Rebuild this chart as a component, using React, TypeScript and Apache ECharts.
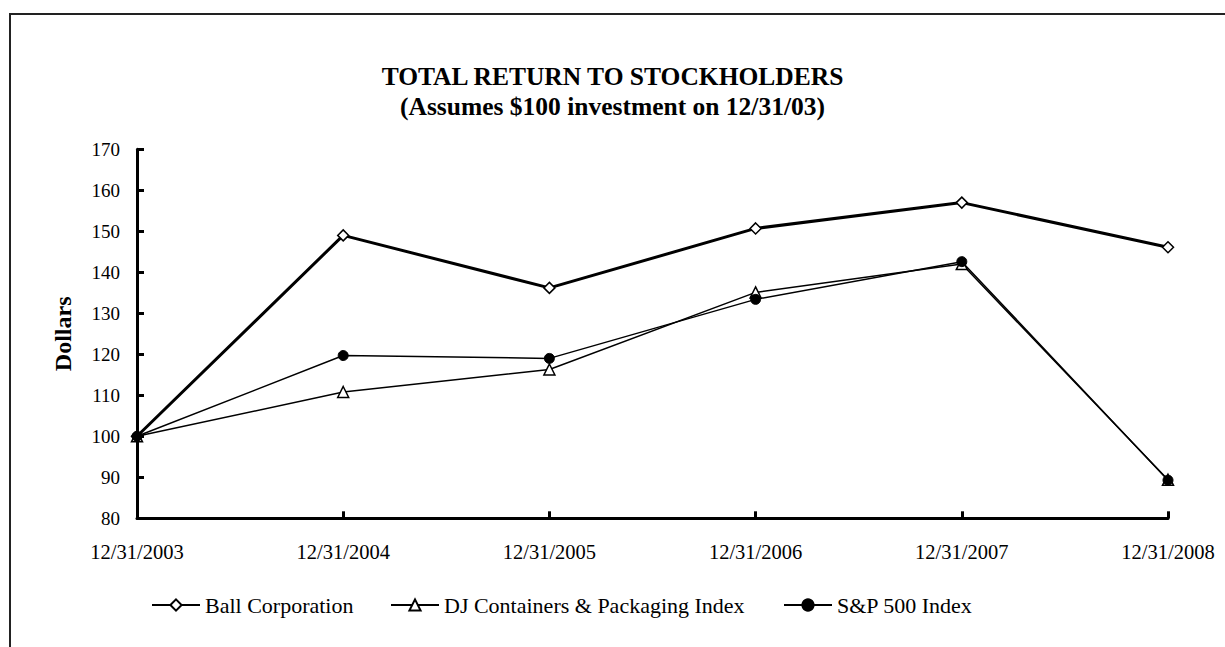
import React, { useEffect, useRef } from "react";
import * as echarts from "echarts";

const categories = ["12/31/2003", "12/31/2004", "12/31/2005", "12/31/2006", "12/31/2007", "12/31/2008"];
const ballValues = [100, 149.0, 136.2, 150.7, 157.0, 146.1];
const djValues = [100, 110.8, 116.3, 135.1, 142.0, 89.4];
const spValues = [100, 119.7, 119.0, 133.4, 142.6, 89.3];
const yTicks = { min: 80, max: 170, interval: 10 };

const FONT = "'Liberation Serif', 'Times New Roman', serif";

export default function App() {
  const ref = useRef<HTMLDivElement>(null);
  useEffect(() => {
    if (!ref.current) return;
    const chart = echarts.init(ref.current, undefined, { renderer: "svg" });
    const legendText = { fontFamily: FONT, fontSize: 22, color: "#000" };
    const legendCommon = {
      top: 594,
      itemWidth: 48,
      itemHeight: 14,
      itemGap: 0,
      padding: 0,
      textStyle: legendText,
    };
    chart.setOption({
      animation: false,
      backgroundColor: "#fff",
      textStyle: { fontFamily: FONT, color: "#000" },
      title: {
        text: "TOTAL RETURN TO STOCKHOLDERS\n(Assumes $100 investment on 12/31/03)",
        left: "center",
        top: 56,
        padding: 5,
        textStyle: { fontFamily: FONT, fontSize: 25.5, fontWeight: "bold", color: "#000", lineHeight: 30 },
      },
      graphic: [
        {
          type: "rect",
          shape: { x: 10, y: 14, width: 1400, height: 800 },
          style: { fill: "none", stroke: "#222", lineWidth: 2 },
          silent: true,
        },
      ],
      legend: [
        { ...legendCommon, data: ["Ball Corporation"], left: 151 },
        { ...legendCommon, data: ["DJ Containers & Packaging Index"], left: 390 },
        { ...legendCommon, data: ["S&P 500 Index"], left: 783 },
      ],
      grid: { left: 137, right: 57, top: 149.3, bottom: 128.7, containLabel: false },
      xAxis: {
        type: "category",
        data: categories,
        boundaryGap: false,
        axisLine: { lineStyle: { color: "#000", width: 3 } },
        axisTick: { inside: true, length: 7, lineStyle: { color: "#000", width: 3 } },
        axisLabel: { fontFamily: FONT, fontSize: 20.5, color: "#000", margin: 23 },
        splitLine: { show: false },
      },
      yAxis: {
        type: "value",
        min: yTicks.min,
        max: yTicks.max,
        interval: yTicks.interval,
        name: "Dollars",
        nameLocation: "middle",
        nameGap: 62,
        nameTextStyle: { fontFamily: FONT, fontSize: 24, fontWeight: "bold", color: "#000" },
        axisLine: { show: true, lineStyle: { color: "#000", width: 3 } },
        axisTick: { show: true, inside: true, length: 7, lineStyle: { color: "#000", width: 3 } },
        axisLabel: { fontFamily: FONT, fontSize: 19, color: "#000", margin: 17 },
        splitLine: { show: false },
      },
      series: [
        {
          name: "Ball Corporation",
          type: "line",
          data: ballValues,
          symbol: "diamond",
          symbolSize: 11,
          showAllSymbol: true,
          lineStyle: { color: "#000", width: 3 },
          itemStyle: { color: "#fff", borderColor: "#000", borderWidth: 1.5 },
          z: 3,
        },
        {
          name: "DJ Containers & Packaging Index",
          type: "line",
          data: djValues,
          symbol: "triangle",
          symbolSize: 11,
          lineStyle: { color: "#000", width: 1.5 },
          itemStyle: { color: "#fff", borderColor: "#000", borderWidth: 1.5 },
          z: 2,
        },
        {
          name: "S&P 500 Index",
          type: "line",
          data: spValues,
          symbol: "circle",
          symbolSize: 10,
          lineStyle: { color: "#000", width: 1.5 },
          itemStyle: { color: "#000", borderColor: "#000", borderWidth: 1 },
          z: 4,
        },
      ],
    });
    return () => chart.dispose();
  }, []);
  return (
    <div
      ref={ref}
      style={{ position: "absolute", left: 0, top: 0, width: 1225, height: 647 }}
    />
  );
}
